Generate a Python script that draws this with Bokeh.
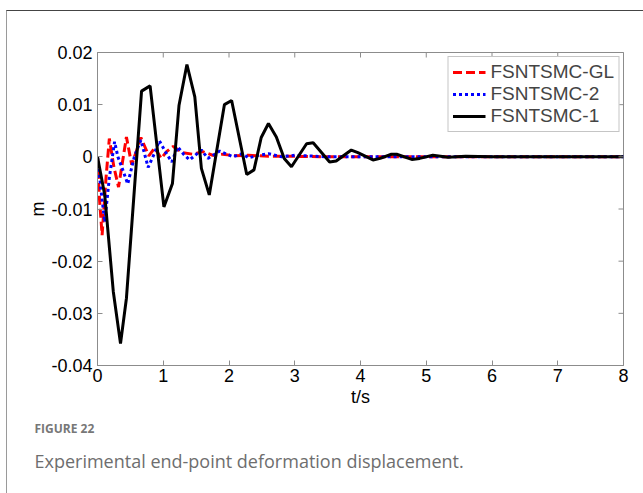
import math
from bokeh.plotting import figure
from bokeh.models import (Legend, LegendItem, FixedTicker, CustomJSTickFormatter, Title, Range1d)
from bokeh.embed import file_html
from bokeh.resources import INLINE

# ---------------- data ----------------
t_gl = [0, 0.03, 0.07, 0.13, 0.18, 0.25, 0.32, 0.38, 0.44, 0.52, 0.59, 0.66, 0.78, 0.87,
        0.97, 1.05, 1.15, 1.30, 1.45, 1.60, 1.75, 1.90, 2.10, 2.30, 2.60, 3.00, 3.50, 4.00, 8.00]
v_gl = [0, -0.008, -0.015, -0.004, 0.0035, -0.002, -0.0058, -0.001, 0.0038, -0.0015, 0.001, 0.0037,
        0.0002, 0.0017, -0.0003, 0.001, 0.002, 0.0008, 0.0005, 0.001, 0.0003, 0.0005, 0.0002,
        0.0003, 0.0001, 0.0001, 0, 0, 0]

t_2 = [0, 0.05, 0.11, 0.18, 0.26, 0.31, 0.37, 0.46, 0.56, 0.66, 0.77, 0.86, 0.94, 1.04, 1.13,
       1.22, 1.31, 1.40, 1.58, 1.68, 1.86, 2.06, 2.20, 2.30, 2.45, 2.60, 2.80, 3.00, 3.50, 8.00]
v_2 = [0, -0.006, -0.0125, -0.004, 0.0029, 0.0, -0.002, -0.0052, 0.0, 0.0032, -0.002, 0.0005,
       0.0031, 0.0008, -0.001, 0.0019, 0.0005, -0.0006, 0.0013, -0.0003, 0.0011, 0.0, 0.0006,
       -0.0002, 0.0003, 0.0006, 0.0, 0.0003, 0.0, 0.0]

t_1 = [0, 0.11, 0.24, 0.35, 0.44, 0.67, 0.80, 1.01, 1.14, 1.24, 1.36, 1.48, 1.58, 1.70, 1.93,
       2.04, 2.27, 2.38, 2.49, 2.60, 2.72, 2.84, 2.95, 3.18, 3.28, 3.53, 3.63, 3.86, 3.96, 4.19,
       4.30, 4.47, 4.55, 4.78, 4.90, 5.10, 5.33, 5.60, 6.00, 8.00]
v_1 = [0, -0.0073, -0.0258, -0.0358, -0.0271, 0.0126, 0.0136, -0.0096, -0.0051, 0.0099, 0.0177,
       0.0115, -0.0022, -0.0073, 0.0100, 0.0108, -0.0034, -0.0025, 0.0037, 0.0064, 0.0038,
       -0.0003, -0.0019, 0.0025, 0.0027, -0.0010, -0.0008, 0.0013, 0.0008, -0.0006, -0.0003,
       0.0005, 0.0005, -0.0005, -0.0003, 0.0003, -0.0001, 0.0001, 0, 0]

series_names = ["FSNTSMC-GL", "FSNTSMC-2", "FSNTSMC-1"]
x_ticks = [0, 1, 2, 3, 4, 5, 6, 7, 8]
y_ticks = [-0.04, -0.03, -0.02, -0.01, 0, 0.01, 0.02]
x_min, x_max = 0, 8
y_min, y_max = -0.04, 0.02
caption_head = "FIGURE 22"
caption_text = "Experimental end-point deformation displacement."

# ---------------- figure ----------------
FONT = "Liberation Sans"
GRAY = "#8c8c8c"

p = figure(width=637, height=483, output_backend="svg", toolbar_location=None,
           x_range=Range1d(x_min, x_max), y_range=Range1d(y_min, y_max),
           min_border_left=90, min_border_right=21, min_border_top=41, min_border_bottom=129,
           margin=(10, 0, 0, 6),
           styles={"border-top": "1px solid #444444", "border-left": "1px solid #9a9a9a"})
p.xgrid.visible = False
p.ygrid.visible = False
p.outline_line_color = GRAY
p.background_fill_color = "white"
p.border_fill_color = "white"

r_gl = p.line(t_gl, v_gl, line_color="#ff0000", line_width=3, line_dash="9 4")
r_2 = p.line(t_2, v_2, line_color="#0000ff", line_width=3, line_dash="3 3")
r_1 = p.line(t_1, v_1, line_color="#000000", line_width=3)

# inward tick marks on the top and right edges (box ticks), clipped to the frame
p.scatter(x_ticks, [y_max] * len(x_ticks), marker="dash", size=10, angle=math.pi / 2,
          line_color=GRAY, line_width=1)
p.scatter([x_max] * len(y_ticks), y_ticks, marker="dash", size=10, angle=0,
          line_color=GRAY, line_width=1)

p.xaxis.ticker = FixedTicker(ticks=x_ticks)
p.yaxis.ticker = FixedTicker(ticks=y_ticks)
p.yaxis.formatter = CustomJSTickFormatter(code="return Math.abs(tick) < 1e-9 ? '0' : tick.toFixed(2);")

for ax in (p.xaxis[0], p.yaxis[0]):
    ax.major_tick_in = 5
    ax.major_tick_out = 0
    ax.minor_tick_line_color = None
    ax.axis_line_color = GRAY
    ax.major_tick_line_color = GRAY
    ax.major_label_text_font = FONT
    ax.major_label_text_font_size = "18px"
    ax.major_label_text_color = "black"
    ax.axis_label_text_font = FONT
    ax.axis_label_text_font_size = "18px"
    ax.axis_label_text_font_style = "normal"
    ax.axis_label_text_color = "black"

p.xaxis.axis_label = "t/s"
p.yaxis.axis_label = "m"
p.xaxis.major_label_standoff = 3
p.xaxis.axis_label_standoff = 2
p.yaxis.major_label_standoff = 5
p.yaxis.axis_label_standoff = 0

legend = Legend(items=[LegendItem(label=series_names[0], renderers=[r_gl]),
                       LegendItem(label=series_names[1], renderers=[r_2]),
                       LegendItem(label=series_names[2], renderers=[r_1])],
                location="top_right", margin=4, padding=4, spacing=0,
                label_height=22, glyph_height=22, glyph_width=33, label_standoff=5,
                label_text_font=FONT, label_text_font_size="19px",
                border_line_color=GRAY, border_line_width=1,
                background_fill_color="white", background_fill_alpha=1)
p.add_layout(legend, "center")

# caption lines below the x axis
p.add_layout(Title(text=caption_head, align="left", offset=-63, standoff=17,
                   text_font="Open Sans", text_font_size="12px", text_font_style="bold",
                   text_color="#777777"), "below")
p.add_layout(Title(text=caption_text, align="left", offset=-63, standoff=2,
                   text_font="Open Sans", text_font_size="18px", text_font_style="normal",
                   text_color="#6e6e6e"), "below")

open("out.html", "w").write(file_html(p, INLINE))
